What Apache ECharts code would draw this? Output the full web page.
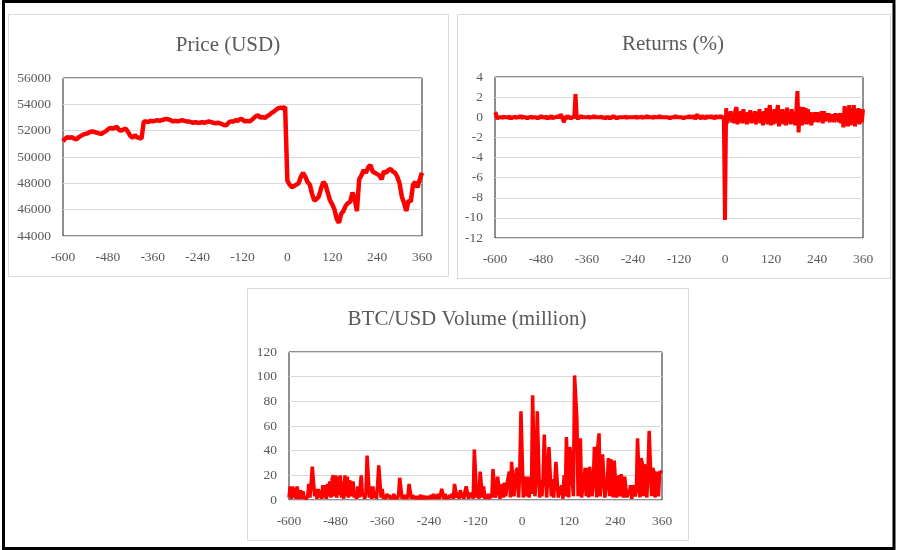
<!DOCTYPE html>
<html>
<head>
<meta charset="utf-8">
<title>BTC/USD around the event</title>
<script src="https://cdn.jsdelivr.net/npm/echarts@6/dist/echarts.min.js"></script>
<style>
  html, body { margin: 0; padding: 0; background: #fff; }
  #chart { width: 897px; height: 550px; }
</style>
</head>
<body>
<div id="chart"></div>
<script>
  // minutes relative to the event: price read every 6 min, returns / volume every 3 min
  const priceMinutes = []
  for (let m = -600; m <= 360; m += 6) priceMinutes.push(m)
  const flowMinutes = []
  for (let m = -600; m <= 360; m += 3) flowMinutes.push(m)

  const price = [
    51200, 51400, 51500, 51450, 51500, 51400, 51350, 51500, 51600, 51700,
    51750, 51800, 51900, 51950, 51900, 51850, 51800, 51750, 51850, 51950,
    52100, 52200, 52150, 52200, 52300, 52050, 52000, 52100, 52150, 51900,
    51600, 51450, 51650, 51500, 51450, 51400, 52700, 52700, 52650, 52750,
    52700, 52750, 52800, 52750, 52800, 52850, 52900, 52850, 52800, 52700,
    52750, 52700, 52750, 52800, 52750, 52700, 52700, 52650, 52600, 52650,
    52600, 52600, 52650, 52600, 52650, 52700, 52650, 52600, 52550, 52600,
    52550, 52500, 52400, 52450, 52650, 52700, 52700, 52800, 52750, 52900,
    52850, 52700, 52750, 52700, 52800, 52950, 53100, 53150, 53000, 53050,
    52950, 53100, 53200, 53350, 53450, 53600, 53700, 53750, 53700, 53800,
    48200, 47900, 47700, 47800, 47900, 48000, 48500, 48800, 48500, 48100,
    47900, 47200, 46700, 46800, 47000, 47600, 48100, 47900, 47300, 46700,
    46400, 46000, 45300, 45000, 45700, 45900, 46300, 46500, 46600, 47300,
    46800, 45900, 48300, 48600, 49000, 48800, 49200, 49400, 48900, 48800,
    48700, 48600, 48300, 48900, 48800, 49000, 49100, 48900, 48800, 48500,
    48000, 47000, 46500, 45900, 46700, 46600, 47900, 48100, 47700, 48300,
    48800
  ]

  const returns = [
    0.5, 0.3, -0.2, 0.1, -0.1, 0.1, -0.1, 0.0, 0.1, -0.1,
    0.1, -0.1, 0.0, 0.1, -0.2, 0.1, -0.1, 0.1, 0.0, -0.1,
    0.1, -0.1, 0.2, -0.1, 0.0, 0.1, -0.1, 0.1, -0.2, 0.1,
    -0.1, 0.1, 0.0, -0.1, 0.1, -0.1, 0.1, -0.2, 0.1, -0.1,
    0.2, -0.1, 0.1, -0.1, 0.0, 0.1, -0.2, 0.1, -0.1, 0.2,
    -0.2, 0.1, -0.1, 0.1, -0.1, 0.2, -0.1, 0.3, 0.1, -0.2,
    -0.5, 0.1, -0.2, 0.2, -0.1, 0.1, -0.2, 0.1, -0.1, 0.2,
    2.3, 0.1, -0.2, 0.1, -0.1, 0.2, -0.1, 0.1, -0.1, 0.1,
    -0.1, 0.1, 0.0, -0.1, 0.1, -0.1, 0.2, -0.1, 0.1, -0.1,
    0.1, -0.1, 0.1, 0.0, -0.1, 0.1, -0.2, 0.1, -0.1, 0.1,
    -0.2, 0.1, -0.1, 0.2, -0.1, 0.1, -0.2, 0.1, -0.1, 0.1,
    -0.1, 0.1, -0.1, 0.1, 0.0, -0.1, 0.1, -0.1, 0.1, -0.1,
    0.1, -0.1, 0.1, 0.0, -0.1, 0.1, -0.1, 0.1, 0.0, -0.1,
    0.1, -0.1, 0.2, -0.1, 0.1, -0.1, 0.1, -0.1, 0.0, 0.1,
    -0.1, 0.1, -0.1, 0.2, -0.1, 0.1, -0.1, 0.1, -0.1, 0.1,
    -0.1, 0.1, -0.2, 0.1, -0.1, 0.1, -0.1, 0.2, -0.1, 0.1,
    -0.1, 0.1, -0.1, 0.1, -0.2, 0.1, -0.1, 0.1, -0.1, 0.2,
    -0.1, 0.1, -0.1, 0.2, -0.2, 0.1, 0.3, -0.1, 0.1, -0.2,
    0.2, -0.1, 0.1, -0.2, 0.2, -0.1, 0.1, -0.1, 0.2, -0.1,
    0.1, -0.2, 0.2, -0.1, 0.1, -0.1, 0.2, -0.1, 0.1, -0.1,
    -10.2, 0.9, -0.6, 0.5, -0.3, 0.6, -0.5, 0.4, -0.6, 0.7,
    1.0, -0.7, 0.5, -0.4, 0.6, -0.6, 0.8, -0.5, 0.3, -0.7,
    0.5, -0.4, 0.7, -0.6, 0.4, -0.5, 0.6, -0.7, 0.5, -0.4,
    0.8, -0.6, 0.5, -0.8, 0.6, -0.5, 0.9, -0.7, 0.5, 1.2,
    -0.8, 0.6, -0.7, 0.8, -0.6, 0.5, 1.2, -0.9, 0.7, -0.6,
    0.8, -0.7, 0.6, -0.8, 0.95, -0.6, 0.5, -0.7, 0.8, -0.6,
    0.5, -0.8, 0.7, 2.6, -1.5, 1.0, 0.7, -0.8, 1.0, -0.6,
    0.9, -0.7, 0.8, -0.6, 0.5, -0.8, 0.4, -0.5, 0.5, -0.4,
    0.5, -0.5, 0.4, -0.3, 0.6, -0.6, 0.6, -0.4, 0.4, -0.3,
    0.4, -0.5, 0.3, -0.4, 0.3, -0.5, 0.4, -0.3, 0.3, -0.5,
    0.4, -0.6, 0.3, -1.0, 1.1, -0.8, 0.9, -0.9, 1.2, -0.8,
    0.9, -0.7, 1.2, -0.9, 0.8, -0.6, 0.9, -0.7, 0.8, -0.5,
    0.8
  ]

  const volume = [
    2, 11, 1, 11, 2, 10, 1, 11, 3, 1,
    8, 1, 7, 2, 3, 1, 3, 13, 2, 14,
    27, 26, 3, 9, 1, 9, 2, 8, 1, 12,
    2, 12, 1, 13, 3, 15, 2, 17, 20, 3,
    20, 2, 19, 4, 20, 2, 15, 1, 20, 3,
    19, 2, 16, 15, 3, 15, 2, 5, 1, 11,
    2, 10, 20, 3, 5, 1, 6, 36, 35, 2,
    11, 1, 11, 2, 4, 1, 12, 28, 27, 2,
    9, 1, 3, 1, 5, 2, 4, 1, 3, 1,
    5, 1, 3, 1, 4, 18, 17, 1, 4, 1,
    4, 1, 3, 13, 13, 1, 4, 1, 3, 1,
    3, 1, 2, 4, 1, 2, 3, 1, 3, 1,
    3, 1, 4, 1, 5, 1, 4, 1, 5, 1,
    4, 9, 8, 1, 5, 1, 3, 1, 4, 2,
    5, 1, 13, 13, 2, 6, 1, 8, 2, 6,
    1, 7, 11, 11, 1, 6, 2, 6, 1, 41,
    41, 2, 6, 1, 23, 22, 2, 11, 1, 4,
    1, 5, 1, 4, 2, 25, 24, 2, 6, 19,
    19, 1, 8, 13, 2, 14, 3, 13, 14, 23,
    2, 31, 32, 3, 12, 24, 26, 2, 25, 72,
    73, 2, 12, 19, 3, 19, 2, 17, 5, 85,
    86, 3, 17, 72, 73, 2, 16, 3, 18, 53,
    52, 2, 18, 43, 42, 3, 17, 2, 14, 31,
    30, 2, 11, 4, 12, 1, 20, 3, 51, 50,
    2, 43, 42, 16, 3, 101, 100, 65, 3, 45,
    50, 2, 9, 12, 26, 3, 26, 2, 27, 26,
    3, 12, 43, 39, 2, 44, 54, 3, 17, 37,
    36, 2, 10, 12, 34, 3, 33, 26, 2, 32,
    31, 2, 8, 20, 3, 21, 20, 2, 19, 10,
    2, 8, 4, 12, 1, 12, 11, 3, 8, 50,
    49, 2, 34, 30, 3, 29, 30, 2, 24, 56,
    56, 3, 26, 23, 2, 12, 23, 3, 23, 22,
    22
  ]

  const titles = ['Price (USD)', 'Returns (%)', 'BTC/USD Volume (million)']

  const font = '"Liberation Serif", "DejaVu Serif", "Times New Roman", serif'
  const textColor = '#595959'
  const red = '#ff0000'

  function xAxisFor(gridIndex, cats, every) {
    return {
      type: 'category',
      gridIndex: gridIndex,
      data: cats,
      boundaryGap: false,
      axisLine: {show: false},
      axisTick: {show: false},
      splitLine: {show: false},
      axisLabel: {interval: every - 1, margin: 14, color: textColor, fontFamily: font, fontSize: 13.5}
    }
  }

  function yAxisFor(gridIndex, min, max, interval) {
    return {
      type: 'value',
      gridIndex: gridIndex,
      min: min,
      max: max,
      interval: interval,
      axisLine: {show: false},
      axisTick: {show: false},
      splitLine: {lineStyle: {color: '#d9d9d9', width: 1}},
      axisLabel: {margin: 12, color: textColor, fontFamily: font, fontSize: 13.5, formatter: (v) => String(v)}
    }
  }

  function lineSeries(index, data, width) {
    return {
      type: 'line',
      xAxisIndex: index,
      yAxisIndex: index,
      data: data,
      symbol: 'none',
      lineStyle: {color: red, width: width},
      itemStyle: {color: red}
    }
  }

  function frame(x, y, w, h, color, lineWidth) {
    return {
      type: 'rect',
      silent: true,
      shape: {x: x, y: y, width: w, height: h},
      style: {fill: 'none', stroke: color, lineWidth: lineWidth}
    }
  }

  const gridStyle = {show: true, borderColor: '#1f1f1f', borderWidth: 1, backgroundColor: 'transparent'}

  const myChart = echarts.init(document.getElementById('chart'))
  myChart.setOption({
    animation: false,
    backgroundColor: '#fff',
    title: [
      {text: titles[0], left: 228, top: 35},
      {text: titles[1], left: 673, top: 34},
      {text: titles[2], left: 467, top: 309}
    ].map((t) => Object.assign(t, {
      textAlign: 'center',
      padding: 0,
      textStyle: {fontFamily: font, fontSize: 21, fontWeight: 'normal', color: textColor}
    })),
    graphic: [
      frame(3.5, 1.5, 890.5, 547, '#000', 3),
      frame(8.5, 14.5, 440, 262, '#d9d9d9', 1),
      frame(457.5, 14.5, 433, 264, '#d9d9d9', 1),
      frame(247.5, 288.5, 441, 252, '#d9d9d9', 1)
    ],
    grid: [
      Object.assign({left: 63, top: 78, width: 359, height: 158}, gridStyle),
      Object.assign({left: 495, top: 77, width: 368, height: 161}, gridStyle),
      Object.assign({left: 289, top: 352, width: 373, height: 148}, gridStyle)
    ],
    xAxis: [
      xAxisFor(0, priceMinutes, 20),
      xAxisFor(1, flowMinutes, 40),
      xAxisFor(2, flowMinutes, 40)
    ],
    yAxis: [
      yAxisFor(0, 44000, 56000, 2000),
      yAxisFor(1, -12, 4, 2),
      yAxisFor(2, 0, 120, 20)
    ],
    series: [
      lineSeries(0, price, 4.5),
      lineSeries(1, returns, 4),
      lineSeries(2, volume, 3.5)
    ]
  })
</script>
</body>
</html>
